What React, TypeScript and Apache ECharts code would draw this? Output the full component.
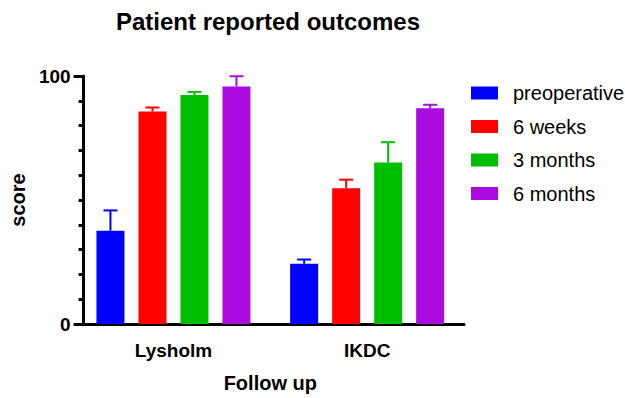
import React, { useEffect, useRef } from "react";
import * as echarts from "echarts";

const categories = ["Lysholm", "IKDC"];
const seriesNames = ["preoperative", "6 weeks", "3 months", "6 months"];
const means = [
  [37.6, 24.3],
  [85.7, 54.7],
  [92.3, 65.1],
  [95.8, 87.0],
];
const sds = [
  [8.2, 1.7],
  [1.6, 3.5],
  [1.3, 8.2],
  [4.1, 1.4],
];
const colors = ["#0000FF", "#FF0000", "#00BF00", "#AC0BE0"];
const yTicks = [0, 100];

const FONT = "'Liberation Sans', Arial, Helvetica, sans-serif";
const BAR_W = 28;
const BAR_GAP = 14;

export default function App() {
  const ref = useRef<HTMLDivElement>(null);
  useEffect(() => {
    if (!ref.current) return;
    const chart = echarts.init(ref.current, null, { renderer: "svg" });
    const n = seriesNames.length;
    const groupW = n * BAR_W + (n - 1) * BAR_GAP;

    const barSeries = seriesNames.map((name, i) => ({
      name,
      type: "bar",
      data: means[i],
      barWidth: BAR_W,
      barGap: `${(BAR_GAP / BAR_W) * 100}%`,
      itemStyle: { color: colors[i] },
      z: 2,
    }));

    const errSeries = seriesNames.map((name, i) => ({
      name: "err-" + name,
      type: "custom",
      z: 3,
      clip: false,
      encode: { x: 0, y: 2 },
      data: categories.map((_, c) => [c, means[i][c], means[i][c] + sds[i][c]]),
      renderItem: (params: any, api: any) => {
        const c = api.value(0);
        const m = api.value(1);
        const hi = api.value(2);
        const p0 = api.coord([c, m]);
        const p1 = api.coord([c, hi]);
        const off = -groupW / 2 + BAR_W / 2 + i * (BAR_W + BAR_GAP);
        const x = p0[0] + off;
        const style = { stroke: colors[i], lineWidth: 2 };
        return {
          type: "group",
          children: [
            { type: "line", shape: { x1: x, y1: p0[1], x2: x, y2: p1[1] }, style },
            { type: "line", shape: { x1: x - 7, y1: p1[1], x2: x + 7, y2: p1[1] }, style },
          ],
        };
      },
    }));

    chart.setOption({
      animation: false,
      textStyle: { fontFamily: FONT },
      title: {
        text: "Patient reported outcomes",
        left: 116,
        top: 9,
        padding: 0,
        textStyle: { fontFamily: FONT, fontSize: 24, fontWeight: "bold", color: "#000" },
      },
      legend: {
        data: seriesNames,
        orient: "vertical",
        left: 471,
        top: 83,
        padding: 0,
        itemWidth: 27,
        itemHeight: 13,
        itemGap: 13.5,
        icon: "rect",
        textStyle: { fontFamily: FONT, fontSize: 20, color: "#000", padding: [0, 0, 0, 10] },
      },
      grid: { left: 73, width: 391, top: 76, bottom: 70.5 },
      xAxis: {
        type: "category",
        data: categories,
        name: "Follow up",
        nameLocation: "middle",
        nameGap: 49,
        nameTextStyle: { fontFamily: FONT, fontSize: 20, fontWeight: "bold", color: "#000" },
        axisLine: { lineStyle: { color: "#000", width: 3 } },
        axisTick: { alignWithLabel: true, length: 9, lineStyle: { color: "#000", width: 3 } },
        axisLabel: { fontFamily: FONT, fontSize: 19, fontWeight: "bold", color: "#000", margin: 17 },
        splitLine: { show: false },
      },
      yAxis: {
        type: "value",
        min: yTicks[0],
        max: yTicks[1],
        interval: yTicks[1] - yTicks[0],
        offset: -7,
        name: "score",
        nameLocation: "middle",
        nameRotate: 90,
        nameGap: 54,
        nameTextStyle: { fontFamily: FONT, fontSize: 20, fontWeight: "bold", color: "#000" },
        axisLine: { show: true, lineStyle: { color: "#000", width: 3 } },
        axisTick: { show: true, length: 10, lineStyle: { color: "#000", width: 3 } },
        minorTick: { show: true, splitNumber: 10, length: 5, lineStyle: { color: "#000", width: 3 } },
        axisLabel: { fontFamily: FONT, fontSize: 19, fontWeight: "bold", color: "#000", margin: 13 },
        splitLine: { show: false },
      },
      series: [...barSeries, ...errSeries],
    });
    return () => chart.dispose();
  }, []);
  return (
    <div
      ref={ref}
      style={{ position: "absolute", left: 0, top: 0, width: 625, height: 398, background: "#fff" }}
    />
  );
}
